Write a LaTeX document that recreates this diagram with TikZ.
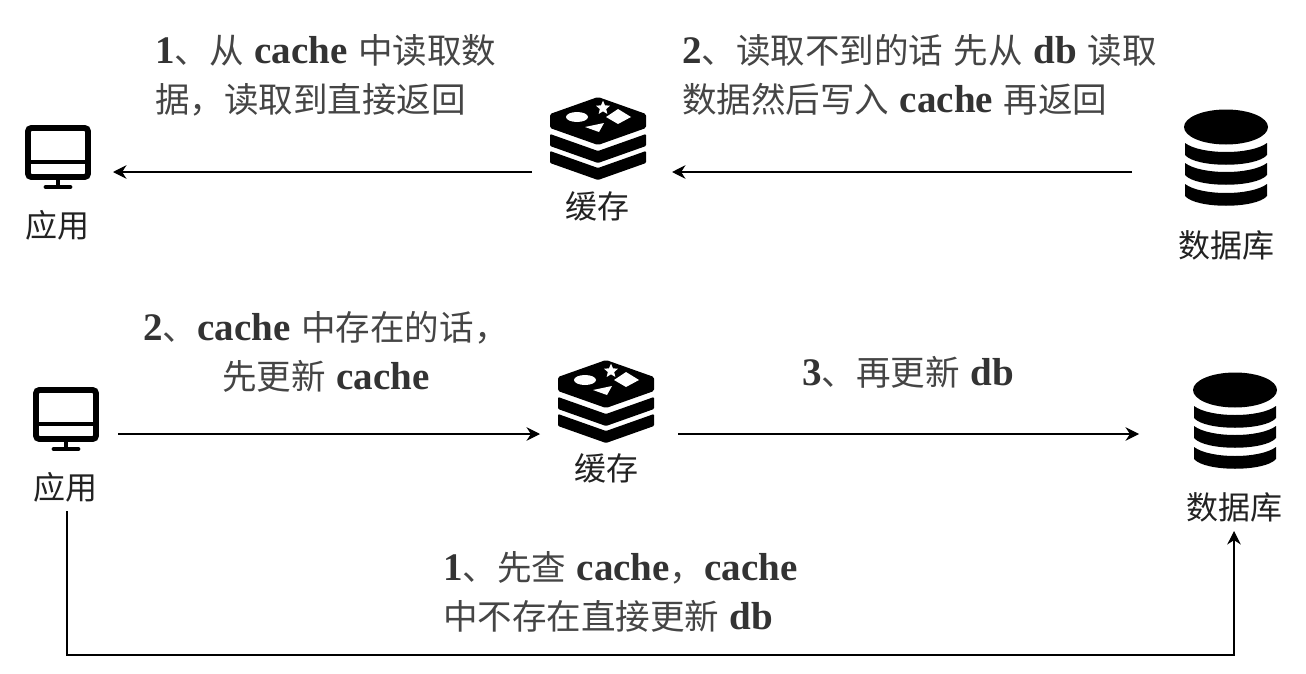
\documentclass[tikz,border=0pt]{standalone}
\usepackage{fontspec}
\newfontfamily\cjk{Noto Sans CJK SC}
\newfontfamily\lat[Scale=1.13]{Liberation Serif}
\definecolor{txt}{HTML}{454545}
\definecolor{txtb}{HTML}{333333}
\definecolor{lbl}{HTML}{222222}
\newcommand{\lb}[1]{{\lat\bfseries\color{txtb}#1}}
\newcommand{\gp}{\hspace{8pt}}
\usetikzlibrary{arrows.meta,shapes.geometric}
\tikzset{
  x=0.75pt,y=-0.75pt,
  anchorbox/.style={inner sep=0,outer sep=0,draw=none,minimum height=60*0.75pt},
  caption/.style={inner sep=0,outer sep=0,text=txt,font=\cjk\fontsize{25.9}{37.3}\selectfont,align=left,anchor=north west},
  iconlabel/.style={inner sep=0,outer sep=0,text=lbl,font=\cjk\fontsize{24}{30}\selectfont,minimum height=36pt},
  conn/.style={draw=black,line width=0.85pt,-{Stealth[length=13.5pt*0.75,width=13.5pt*0.75]}},
  pics/monitor/.style={code={
    \draw[line width=4.4pt,rounded corners=2.5pt] (-30,-44) rectangle (30,5);
    \draw[line width=3.6pt] (-30,-10) -- (30,-10);
    \draw[line width=3.6pt] (0,7) -- (0,15);
    \draw[line width=3.6pt,line cap=round] (-12,15) -- (12,15);
  }},
  pics/redis/.style={code={
    \fill[rounded corners=1.2pt] (0,0) -- (48,17) -- (48,31) -- (0,48) -- (-48,31) -- (-48,17) -- cycle;
    \fill[rounded corners=0.8pt] (-48,37) -- (0,54) -- (48,37) -- (48,49) -- (0,66) -- (-48,49) -- cycle;
    \fill[rounded corners=0.8pt] (-48,54) -- (0,71) -- (48,54) -- (48,66) -- (0,83) -- (-48,66) -- cycle;
    \fill[white] (-21,20) ellipse [x radius=11,y radius=5];
    \fill[white] (20,12) -- (33,20) -- (20,27) -- (8,20) -- cycle;
    \fill[white] (-13,30) -- (6,26) -- (1,35) -- cycle;
    \node[star,star points=5,star point ratio=2.2,fill=white,inner sep=0,minimum size=11pt] at (5,11) {};
  }},
  pics/dbstack/.style={code={
    \fill (0,0) ellipse [x radius=42,y radius=17.5];
    \foreach \t in {16,36,57}{
      \fill (-41,\t) .. controls (-25,\t+12) and (25,\t+12) .. (41,\t)
        -- (41,\t+12) .. controls (30,\t+25) and (-30,\t+25) .. (-41,\t+12) -- cycle;
    }
  }},
}
\begin{document}
\begin{tikzpicture}
\useasboundingbox (0,0) rectangle (1306,674);
% row 1
\node[anchorbox,minimum width=110*0.75pt] (app1) at (58,172) {};
\node[anchorbox,minimum width=140*0.75pt] (cache1) at (602,172) {};
\node[anchorbox,minimum width=186*0.75pt] (db1) at (1225,172) {};
\pic at (58,172) {monitor};
\pic at (598,97) {redis};
\pic at (1226,127) {dbstack};
\node[iconlabel] (app1l) at (57,225) {应用};
\node[iconlabel] (cache1l) at (597,206) {缓存};
\node[iconlabel] (db1l) at (1226,245) {数据库};
\node[caption] (t1) at (155,34) {\lb{1}、从\gp\lb{cache}\gp 中读取数\\据，读取到直接返回};
\node[caption] (t2) at (682,34) {\lb{2}、读取不到的话\gp 先从\gp\lb{db}\gp 读取\\数据然后写入\gp\lb{cache}\gp 再返回};
\draw[conn] (cache1.west) -- (app1.east);
\draw[conn] (db1.west) -- (cache1.east);
% row 2
\node[anchorbox,minimum width=104*0.75pt] (app2) at (66,434) {};
\node[anchorbox,minimum width=138*0.75pt] (cache2) at (609,434) {};
\node[anchorbox,minimum width=190*0.75pt] (db2) at (1234,434) {};
\pic at (66,434) {monitor};
\pic at (606,360) {redis};
\pic at (1235,390) {dbstack};
\node[iconlabel] (app2l) at (65,487) {应用};
\node[iconlabel] (cache2l) at (606,468) {缓存};
\node[iconlabel] (db2l) at (1234,507) {数据库};
\node[caption,align=center,anchor=north] (t3) at (326,311) {\lb{2}、\lb{cache}\gp 中存在的话，\\先更新\gp\lb{cache}};
\node[caption] (t4) at (802,356) {\lb{3}、再更新\gp\lb{db}};
\node[caption] (t5) at (443,551) {\lb{1}、先查\gp\lb{cache}，\lb{cache}\\中不存在直接更新\gp\lb{db}};
\draw[conn] (app2.east) -- (cache2.west);
\draw[conn] (cache2.east) -- (db2.west);
\coordinate (lowcorner) at (67,655);
\draw[conn] (app2l.south -| lowcorner) -- (lowcorner) -| (db2l.south);
\end{tikzpicture}
\end{document}
